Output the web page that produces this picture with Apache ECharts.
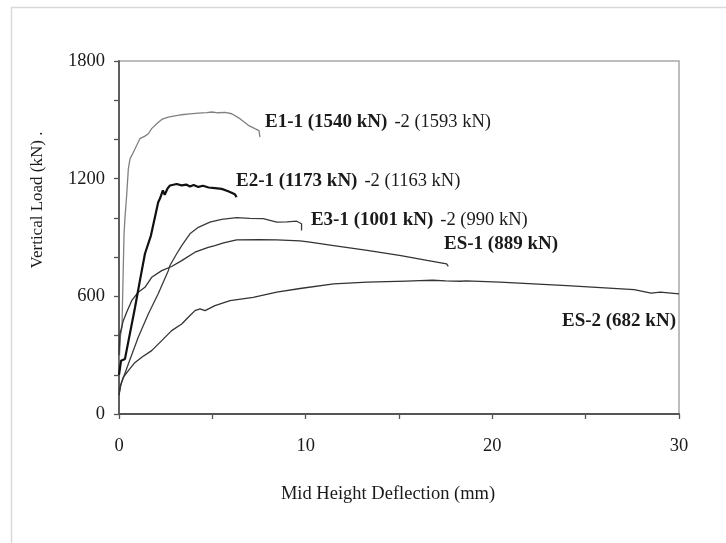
<!DOCTYPE html>
<html>
<head>
<meta charset="utf-8">
<script src="https://cdn.jsdelivr.net/npm/echarts@6/dist/echarts.min.js"></script>
<style>
  html, body { margin: 0; padding: 0; background: #fff; }
  #chart { width: 726px; height: 543px; }
</style>
</head>
<body>
<div id="chart"></div>
<script>
// Load–deflection curves: [mid height deflection (mm), vertical load (kN)]
const curveE1 = [
  [0.0, 250], [0.08, 400], [0.16, 442], [0.19, 578], [0.23, 748], [0.27, 919],
  [0.32, 1000], [0.41, 1114], [0.5, 1250], [0.59, 1301], [0.77, 1335], [0.95, 1370],
  [1.12, 1404], [1.39, 1417], [1.57, 1429], [1.75, 1455], [2.02, 1480], [2.29, 1502],
  [2.64, 1514], [3.0, 1520], [3.36, 1526], [3.8, 1530], [4.25, 1534], [4.7, 1537],
  [4.97, 1540], [5.3, 1536], [5.68, 1538], [6.04, 1531], [6.48, 1506], [6.93, 1472],
  [7.28, 1455], [7.5, 1445], [7.55, 1412]
];
const curveE2 = [
  [0.0, 200], [0.11, 272], [0.32, 281], [0.86, 544], [1.12, 680], [1.39, 817],
  [1.71, 910], [2.10, 1080], [2.2, 1100], [2.35, 1140], [2.45, 1118], [2.6, 1150],
  [2.73, 1165], [3.09, 1173], [3.36, 1166], [3.6, 1170], [3.8, 1160], [4.0, 1168],
  [4.25, 1158], [4.5, 1164], [4.8, 1155], [5.14, 1152], [5.5, 1148], [5.85, 1136],
  [6.21, 1120], [6.30, 1106]
];
const curveE3 = [
  [0.03, 110], [0.11, 153], [0.5, 255], [1.03, 391], [1.57, 510], [2.10, 613],
  [2.64, 731], [2.73, 757], [3.09, 817], [3.36, 859], [3.80, 919], [4.25, 952],
  [4.34, 961], [4.87, 978], [5.5, 992], [6.30, 1001], [7.0, 998], [7.73, 996],
  [8.45, 978], [9.0, 980], [9.52, 983], [9.78, 970], [9.78, 936]
];
const curveES1 = [
  [0.0, 300], [0.05, 408], [0.23, 476], [0.41, 519], [0.68, 578], [1.03, 621],
  [1.39, 646], [1.75, 697], [2.29, 731], [2.82, 752], [3.36, 782], [4.07, 825],
  [4.78, 850], [5.14, 859], [5.6, 872], [6.30, 888], [7.5, 889], [8.45, 888],
  [9.7, 883], [10.23, 876], [11.5, 859], [13.3, 834], [15.1, 808], [16.5, 783],
  [17.55, 766], [17.64, 753]
];
const curveES2 = [
  [0.0, 95], [0.05, 136], [0.23, 187], [0.50, 221], [0.86, 263], [1.22, 289],
  [1.75, 323], [2.29, 374], [2.82, 425], [3.36, 459], [3.71, 493], [4.07, 527],
  [4.34, 536], [4.61, 527], [5.14, 553], [5.95, 578], [7.19, 595], [8.45, 621],
  [9.7, 640], [11.5, 664], [13.3, 672], [15.4, 678], [16.1, 680], [16.8, 682],
  [17.5, 679], [18.3, 677], [18.6, 679], [20.4, 672], [24.0, 655], [27.6, 634],
  [28.5, 616], [29.0, 621], [30.0, 613]
];

// Specimen names and peak loads (kN)
const specimenNames = ['E1', 'E2', 'E3', 'ES-1', 'ES-2'];
const peakFirst  = [1540, 1173, 1001, 889, 682];
const peakSecond = [1593, 1163, 990, null, null];

// Axis ticks
const xTicks = [0, 10, 20, 30];
const yTicks = [0, 600, 1200, 1800];

// Where each curve's annotation starts (left edge, vertical centre), in data units
const labelAnchors = [[7.82, 1489], [6.27, 1186], [10.28, 990], [17.41, 864], [23.73, 476]];

const SERIF = '"Liberation Serif", "DejaVu Serif", serif';
const INK = '#1a1a1a';
const FS = 18.5;

function labelText(i) {
  const name = specimenNames[i];
  if (peakSecond[i] == null) {
    return '{b|' + name + ' (' + peakFirst[i] + ' kN)}';
  }
  return '{b|' + name + '-1 (' + peakFirst[i] + ' kN)}{n|-2 (' + peakSecond[i] + ' kN)}';
}

const curves = [curveE1, curveE2, curveE3, curveES1, curveES2];
const lineStyles = [
  { color: '#808080', width: 1.3 },
  { color: '#111111', width: 2.2 },
  { color: '#3a3a3a', width: 1.3 },
  { color: '#333333', width: 1.3 },
  { color: '#333333', width: 1.3 }
];

const series = curves.map((data, i) => ({
  type: 'line',
  name: specimenNames[i],
  data: data,
  showSymbol: false,
  smooth: false,
  lineStyle: lineStyles[i],
  z: i === 1 ? 4 : 3,
  animation: false,
  markPoint: {
    symbol: 'circle',
    symbolSize: 0,
    silent: true,
    animation: false,
    data: [{ coord: labelAnchors[i] }],
    label: {
      show: true,
      position: 'right',
      distance: 0,
      formatter: () => labelText(i),
      rich: {
        b: { fontFamily: SERIF, fontSize: 19, fontWeight: 'bold', color: INK },
        n: { fontFamily: SERIF, fontSize: FS, fontWeight: 'normal', color: INK, padding: [0, 0, 0, 7] }
      }
    }
  }
}));

const chart = echarts.init(document.getElementById('chart'), null, { renderer: 'canvas' });

chart.setOption({
  backgroundColor: '#ffffff',
  animation: false,
  grid: {
    left: 119, top: 61, right: 47, bottom: 129,
    show: true, borderColor: '#a8a8a8', borderWidth: 1.5, backgroundColor: 'transparent'
  },
  xAxis: {
    type: 'value', min: 0, max: 30, interval: 5,
    axisLine: { show: true, onZero: false, lineStyle: { color: '#555', width: 1.8 } },
    axisTick: { show: true, length: 5, lineStyle: { color: '#555', width: 1.3 } },
    splitLine: { show: false },
    axisLabel: {
      margin: 23, fontFamily: SERIF, fontSize: FS, color: INK,
      formatter: v => (xTicks.indexOf(v) >= 0 ? String(v) : '')
    }
  },
  yAxis: {
    type: 'value', min: 0, max: 1800, interval: 200,
    axisLine: { show: true, onZero: false, lineStyle: { color: '#555', width: 1.8 } },
    axisTick: { show: true, length: 5, lineStyle: { color: '#555', width: 1.3 } },
    splitLine: { show: false },
    axisLabel: {
      margin: 14, fontFamily: SERIF, fontSize: FS, color: INK,
      formatter: v => (yTicks.indexOf(v) >= 0 ? String(v) : '')
    }
  },
  graphic: [
    {
      type: 'rect', z: -10, silent: true,
      shape: { x: 11.5, y: 7.5, width: 800, height: 600 },
      style: { fill: null, stroke: '#d9d9d9', lineWidth: 1.5 }
    },
    {
      type: 'text', silent: true,
      x: 388, y: 494,
      style: {
        text: 'Mid Height Deflection (mm)', fontFamily: SERIF, fontSize: FS,
        fill: INK, align: 'center', verticalAlign: 'middle'
      }
    },
    {
      type: 'text', silent: true,
      x: 38, y: 200, rotation: Math.PI / 2,
      style: {
        text: 'Vertical Load (kN) .', fontFamily: SERIF, fontSize: 17,
        fill: INK, align: 'center', verticalAlign: 'middle'
      }
    }
  ],
  series: series
});
</script>
</body>
</html>
